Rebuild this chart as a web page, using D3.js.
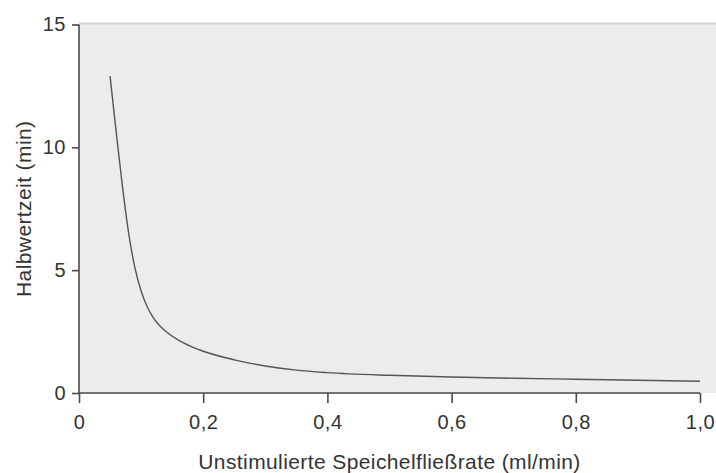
<!DOCTYPE html>
<html>
<head>
<meta charset="utf-8">
<script src="https://cdn.jsdelivr.net/npm/d3@7"></script>
<style>
  body { margin: 0; background: #fff; }
  text { font-family: "Liberation Sans", Arial, Helvetica, sans-serif; fill: #333; }
</style>
</head>
<body>
<svg id="chart" width="716" height="473"></svg>
<script>
// flow rate (ml/min) and half-life (min)
const flowRates = [0.05, 0.06, 0.07, 0.08, 0.09, 0.1, 0.11, 0.12, 0.13, 0.14, 0.16, 0.18, 0.2, 0.25, 0.3, 0.35, 0.4, 0.5, 0.6, 0.7, 0.8, 0.9, 1.0]
const halfLives = [12.9, 10.6, 8.4, 6.5, 5.1, 4.15, 3.5, 3.05, 2.74, 2.5, 2.15, 1.9, 1.7, 1.35, 1.1, 0.93, 0.83, 0.72, 0.65, 0.6, 0.56, 0.52, 0.48]
const xTicks = [0, 0.2, 0.4, 0.6, 0.8, 1.0]
const yTicks = [0, 5, 10, 15]
const xTitle = "Unstimulierte Speichelfließrate (ml/min)"
const yTitle = "Halbwertzeit (min)"

const svg = d3.select("#chart")
const W = 716

const x = d3.scaleLinear().domain([0, 1]).range([79, 700])
const y = d3.scaleLinear().domain([0, 15]).range([393, 24.5])

// grey plot background, runs on to the right edge
svg.append("rect")
    .attr("x", x(0))
    .attr("y", y(15) - 1.5)
    .attr("width", W - x(0))
    .attr("height", y(0) - y(15) + 1.5)
    .attr("fill", "#ebeced")
svg.append("line")
    .attr("x1", x(0)).attr("x2", W)
    .attr("y1", y(15) - 1).attr("y2", y(15) - 1)
    .attr("stroke", "#d2d3d4")
    .attr("stroke-width", 2)

// german decimal comma
const fmt = d => (d === 0 ? "0" : d3.format(".1f")(d)).replace(".", ",")

const xAxis = svg.append("g")
    .attr("transform", "translate(0," + y(0) + ")")
    .call(d3.axisBottom(x).tickValues(xTicks).tickSize(10).tickPadding(12).tickFormat(fmt))
const yAxis = svg.append("g")
    .attr("transform", "translate(" + x(0) + ",0)")
    .call(d3.axisLeft(y).tickValues(yTicks).tickSize(7).tickPadding(6))

// no end caps on the axis lines
xAxis.select(".domain").attr("d", "M" + x(0) + ",0H" + x(1))
yAxis.select(".domain").attr("d", "M0," + y(0) + "V" + y(15))

svg.selectAll(".domain, .tick line")
    .attr("stroke", "#4a4a4a")
    .attr("stroke-width", 1.6)
svg.selectAll(".tick text")
    .style("font-size", "20px")
    .style("letter-spacing", "0.5px")
    .style("font-family", "'Liberation Sans', Arial, sans-serif")
    .attr("fill", "#333")

const line = d3.line()
    .x((d, i) => x(flowRates[i]))
    .y(d => y(d))
    .curve(d3.curveMonotoneX)

svg.append("path")
    .datum(halfLives)
    .attr("d", line)
    .attr("fill", "none")
    .attr("stroke", "#555")
    .attr("stroke-width", 1.4)

svg.append("text")
    .attr("x", (x(0) + x(1)) / 2)
    .attr("y", 469)
    .attr("text-anchor", "middle")
    .style("font-size", "21px")
    .style("letter-spacing", "0.4px")
    .text(xTitle)

svg.append("text")
    .attr("transform", "translate(31," + (y(0) + y(15)) / 2 + ") rotate(-90)")
    .attr("text-anchor", "middle")
    .style("font-size", "21px")
    .style("letter-spacing", "0.4px")
    .text(yTitle)
</script>
</body>
</html>
